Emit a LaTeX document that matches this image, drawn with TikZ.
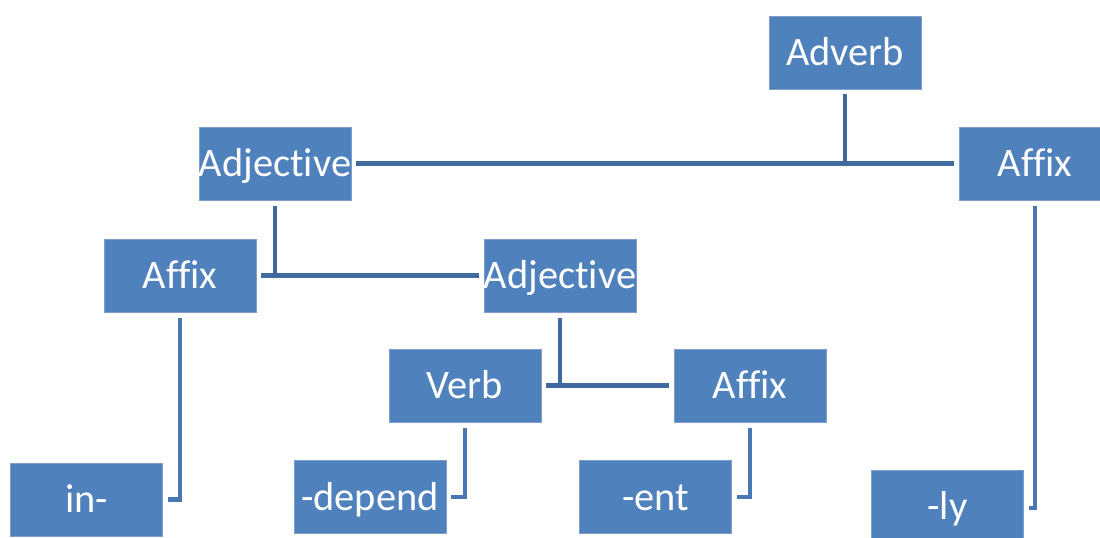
\documentclass[tikz,border=0pt]{standalone}
\usepackage{fontspec}
\setmainfont{Carlito}[Ligatures=NoCommon]
\usepackage{xcolor}
\usetikzlibrary{positioning,calc}
\definecolor{boxblue}{HTML}{4F81BD}
\definecolor{boxedge}{HTML}{7E9FCB}
\definecolor{tblue}{HTML}{3E6A9F}
\definecolor{eblue}{HTML}{4877B3}

\begin{document}
\begin{tikzpicture}[
  box/.style={fill=boxblue,draw=boxedge,line width=0.4pt,minimum width=3.04cm,minimum height=1.46cm,
    inner sep=0pt,text=white,font=\fontsize{23}{27}\selectfont,text height=0.52cm,text depth=0pt},
  tline/.style={draw=tblue,line width=0.09cm},
  eline/.style={draw=eblue,line width=0.09cm}]
  \useasboundingbox (0,0) rectangle (22,10.74);
  \node[box] (adverb) at (16.90,9.69) {Adverb};
  \node[box] (adjA) at (5.50,7.47) {Adjective};
  \node[box] (affixA) at (20.70,7.47) {Affix};
  \node[box] (affixB) at (3.60,5.23) {Affix};
  \node[box] (adjB) at (11.20,5.23) {Adjective};
  \node[box] (verb) at (9.30,3.03) {Verb};
  \node[box] (affixC) at (15.00,3.03) {Affix};
  \node[box] (in) at (1.73,0.75) {in-};
  \node[box] (depend) at (7.40,0.80) {-depend};
  \node[box] (ent) at (13.11,0.80) {-ent};
  \node[box] (ly) at (18.95,0.61) {-ly};
  % branches
  \draw[tline] ([yshift=-0.1cm]adverb.south) -- (adverb.south |- adjA.east);
  \draw[tline] ([xshift=0.1cm]adjA.east) -- ([xshift=-0.1cm]affixA.west);
  \draw[tline] ([yshift=-0.12cm]adjA.south) -- (adjA.south |- adjB.west);
  \draw[tline] ([xshift=0.1cm]affixB.east) -- ([xshift=-0.1cm]adjB.west);
  \draw[tline] ([yshift=-0.12cm]adjB.south) -- (adjB.south |- affixC.west);
  \draw[tline] ([xshift=0.1cm]verb.east) -- ([xshift=-0.1cm]affixC.west);
  % leaves
  \draw[eline] ([yshift=-0.12cm]affixB.south) |- ([xshift=0.1cm]in.east);
  \draw[eline] ([yshift=-0.12cm]verb.south) |- ([xshift=0.1cm]depend.east);
  \draw[eline] ([yshift=-0.12cm]affixC.south) |- ([xshift=0.1cm]ent.east);
  \draw[eline] ([yshift=-0.12cm]affixA.south) |- ([xshift=0.1cm,yshift=-0.03cm]ly.east);
\end{tikzpicture}
\end{document}
